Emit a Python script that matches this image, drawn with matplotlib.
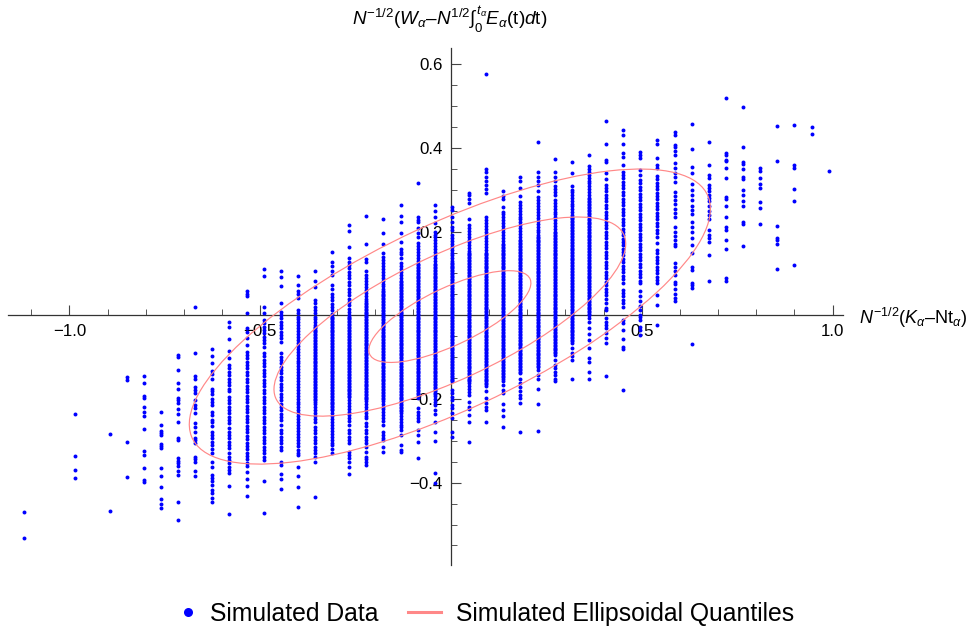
import numpy as np
import matplotlib
matplotlib.use("Agg")
import matplotlib.pyplot as plt
from matplotlib.lines import Line2D
from matplotlib.patches import Ellipse
from matplotlib.ticker import FixedLocator, FixedFormatter

plt.rcParams['font.family'] = ['Liberation Sans', 'DejaVu Sans']
plt.rcParams['mathtext.fontset'] = 'custom'
plt.rcParams['mathtext.rm'] = 'Liberation Sans'
plt.rcParams['mathtext.it'] = 'Liberation Sans:italic'
plt.rcParams['mathtext.bf'] = 'Liberation Sans:bold'

column_x = [-1.119,-0.985,-0.895,-0.850,-0.805,-0.760,-0.716,-0.671,-0.626,-0.581,-0.536,-0.491,-0.446,-0.401,
            -0.356,-0.312,-0.267,-0.222,-0.177,-0.132,-0.087,-0.042,0.003,0.048,0.092,0.137,0.182,0.227,0.272,
            0.317,0.362,0.407,0.451,0.496,0.541,0.586,0.631,0.676,0.721,0.766,0.810,0.855,0.900,0.945,0.990]

# simulated values per lattice column, in thousandths
column_y = [
 [-470,-533],
 [-236,-335,-370,-388],
 [-284,-467],
 [-148,-155,-303,-387],
 [-146,-162,-193,-198,-219,-230,-241,-272,-324,-334,-364,-393,-398],
 [-230,-261,-276,-282,-287,-308,-312,-316,-364,-385,-410,-438,-451,-461],
 [-94,-100,-130,-162,-175,-198,-202,-209,-224,-236,-256,-292,-298,-342,-347,-353,-361,-372,-381,-446,-488],
 [21,-89,-145,-153,-172,-178,-186,-202,-214,-222,-234,-258,-266,-278,-292,-298,-306,-338,-344,-350,-372,-385],
 [-81,-97,-115,-132,-140,-153,-177,-182,-189,-201,-206,-214,-230,-238,-250,-256,-264,-278,-286,-294,-302,-310,-320,-330,-350,-362,-381,-389,-397,-405,-417,-425,-437,-447],
 [-15,-27,-57,-85,-103,-119,-127,-135,-143,-151,-159,-167,-175,-182,-194,-202,-210,-218,-226,-234,-242,-250,-258,-270,-278,-286,-294,-302,-310,-318,-328,-338,-346,-354,-362,-370,-376,-408,-475],
 [57,50,45,5,-31,-39,-55,-71,-87,-95,-103,-111,-119,-127,-135,-143,-151,-160,-168,-176,-184,-192,-200,-208,-216,-224,-232,-240,-248,-256,-264,-272,-280,-288,-296,-304,-312,-320,-328,-336,-344,-352,-360,-374,-390,-407,-432],
 [111,93,19,6,-11,-19,-27,-35,-43,-51,-59,-67,-75,-90,-98,-106,-114,-122,-130,-138,-146,-154,-162,-170,-178,-186,-194,-202,-210,-218,-226,-234,-242,-250,-258,-266,-274,-282,-290,-298,-306,-314,-322,-330,-338,-345,-397,-473],
 [107,91,69,30,9,1,-7,-15,-23,-31,-39,-47,-55,-63,-91,-99,-107,-115,-123,-131,-139,-147,-155,-163,-171,-179,-187,-195,-203,-211,-219,-227,-235,-243,-251,-262,-274,-282,-290,-298,-306,-314,-322,-351,-358,-378,-391,-415],
 [95,73,57,50,41,13,5,-3,-10,-17,-24,-31,-38,-45,-52,-59,-66,-73,-80,-87,-94,-101,-108,-115,-122,-129,-136,-143,-150,-157,-164,-171,-178,-185,-192,-199,-206,-213,-220,-227,-234,-241,-248,-255,-262,-269,-276,-283,-290,-297,-305,-313,-321,-329,-334,-362,-384,-411,-459],
 [107,82,67,37,29,21,13,5,-3,-10,-17,-24,-31,-38,-45,-52,-59,-66,-73,-80,-87,-94,-101,-108,-115,-122,-129,-136,-143,-150,-157,-164,-171,-178,-185,-192,-199,-206,-213,-220,-227,-234,-241,-248,-255,-266,-274,-282,-290,-298,-306,-314,-322,-330,-338,-350,-434],
 [151,127,119,106,96,72,64,52,44,36,28,20,12,4,-3,-10,-17,-24,-31,-38,-45,-52,-59,-66,-73,-80,-87,-94,-101,-108,-115,-122,-129,-136,-143,-150,-157,-164,-171,-178,-185,-192,-199,-206,-213,-220,-227,-234,-241,-248,-255,-262,-269,-276,-283,-290,-297,-304,-310,-319,-330],
 [215,202,164,136,128,120,112,104,96,88,80,72,64,56,48,40,32,24,16,8,0,-7,-14,-21,-28,-35,-42,-49,-56,-63,-70,-77,-84,-91,-98,-105,-112,-119,-126,-133,-140,-147,-154,-161,-168,-175,-182,-189,-196,-203,-210,-217,-224,-231,-238,-245,-252,-262,-274,-282,-290,-298,-306,-326,-334,-342,-350,-362,-379],
 [237,170,134,128,107,96,89,82,75,68,61,54,47,40,33,26,19,12,5,-2,-9,-16,-23,-30,-37,-44,-51,-58,-65,-72,-79,-86,-93,-100,-107,-114,-121,-128,-135,-142,-149,-156,-163,-170,-177,-184,-191,-198,-205,-212,-219,-226,-233,-240,-245,-257,-265,-273,-281,-290,-298,-306,-314,-326,-338,-344,-350,-358],
 [231,197,170,148,140,132,125,118,111,104,97,90,83,76,69,62,55,48,41,34,27,20,13,6,-1,-8,-15,-22,-29,-36,-43,-50,-57,-64,-71,-78,-85,-92,-99,-106,-113,-120,-127,-134,-141,-148,-155,-162,-169,-176,-183,-190,-197,-204,-211,-218,-225,-232,-239,-246,-253,-262,-278,-286,-293,-298,-314,-326],
 [264,237,222,196,176,158,152,146,136,124,117,110,103,96,89,82,75,68,61,54,47,40,33,26,19,12,5,-2,-9,-16,-23,-30,-37,-44,-51,-58,-65,-72,-79,-86,-93,-100,-107,-114,-121,-128,-135,-142,-149,-156,-163,-170,-177,-184,-191,-198,-205,-212,-219,-226,-233,-240,-247,-254,-261,-268,-275,-286,-310,-322,-327],
 [316,236,228,222,208,197,188,172,165,158,151,144,137,130,123,116,109,102,95,88,81,74,67,60,53,46,39,32,25,18,11,4,-3,-10,-17,-24,-31,-38,-45,-52,-59,-66,-73,-80,-87,-94,-101,-108,-115,-122,-129,-136,-143,-150,-157,-164,-171,-178,-185,-192,-198,-222,-230,-238,-246,-252,-274,-286,-302,-342],
 [264,250,234,220,200,193,186,179,172,165,158,151,144,137,130,123,116,109,102,95,88,81,74,67,60,53,46,39,32,25,18,11,4,-3,-10,-17,-24,-31,-38,-45,-52,-59,-66,-73,-80,-87,-94,-101,-108,-115,-122,-129,-136,-143,-150,-157,-164,-171,-178,-185,-192,-199,-206,-214,-226,-236,-254,-278,-300,-377,-401],
 [258,252,236,224,210,204,192,185,178,171,164,157,150,143,136,129,122,115,108,101,94,87,80,73,66,59,52,45,38,31,24,17,10,3,-4,-11,-18,-25,-32,-39,-46,-53,-60,-67,-74,-81,-88,-95,-102,-109,-116,-123,-130,-137,-144,-151,-158,-178,-186,-194,-202,-214,-222,-234,-246,-278,-290],
 [293,288,277,269,230,216,209,202,195,188,181,174,167,160,153,146,139,132,125,118,111,104,97,90,83,76,69,62,55,48,41,34,27,20,13,6,-1,-8,-15,-22,-29,-36,-43,-50,-57,-64,-71,-78,-85,-92,-99,-106,-113,-120,-127,-134,-141,-148,-155,-162,-169,-176,-183,-190,-206,-218,-225,-238,-254,-303],
 [577,350,343,331,322,311,302,292,236,228,220,213,206,199,192,185,178,171,164,157,150,143,136,129,122,115,108,101,94,87,80,73,66,59,52,45,38,31,24,17,10,3,-4,-11,-18,-25,-32,-39,-46,-53,-60,-67,-74,-81,-88,-95,-102,-109,-116,-123,-130,-137,-144,-151,-158,-165,-170,-182,-198,-209,-218,-226,-254],
 [298,285,277,258,248,241,234,227,220,213,206,199,192,185,178,171,164,157,150,143,136,129,122,115,108,101,94,87,80,73,66,59,52,45,38,31,24,17,10,3,-4,-11,-18,-25,-32,-39,-46,-53,-60,-67,-74,-81,-88,-95,-102,-109,-116,-123,-130,-137,-144,-151,-158,-166,-178,-186,-213,-226,-240,-268],
 [330,322,305,285,271,264,257,250,243,236,229,222,215,208,201,194,187,180,173,166,159,152,145,138,131,124,117,110,103,96,89,82,75,68,61,54,47,40,33,26,19,12,5,-2,-9,-16,-23,-30,-37,-44,-51,-58,-65,-72,-79,-86,-93,-100,-107,-114,-121,-128,-135,-139,-152,-162,-172,-182,-190,-198,-210,-279],
 [413,342,330,322,311,297,282,275,268,261,254,247,240,233,226,219,212,205,198,191,184,177,170,163,156,149,142,135,128,121,114,107,100,93,86,79,72,65,58,51,44,37,30,23,16,9,2,-5,-12,-19,-26,-33,-40,-47,-54,-61,-68,-75,-82,-89,-96,-103,-110,-117,-124,-131,-143,-152,-177,-213,-277],
 [374,342,331,321,310,302,295,288,276,269,262,255,248,241,234,227,220,213,206,199,192,185,178,171,164,157,150,143,136,129,122,115,108,101,94,87,80,73,66,59,52,45,38,31,24,17,10,3,-4,-11,-18,-25,-32,-39,-46,-53,-60,-67,-74,-81,-88,-95,-107,-119,-127,-135,-143,-151,-158],
 [366,339,308,300,295,288,281,274,267,260,253,246,239,232,225,218,211,204,197,190,183,176,169,162,155,148,141,134,127,120,113,106,99,92,85,78,71,64,57,50,43,36,29,22,15,8,1,-6,-13,-20,-27,-34,-41,-48,-55,-62,-67,-79,-89,-98,-107,-151],
 [382,357,350,343,336,329,322,315,308,301,294,287,280,273,266,259,252,245,238,231,224,217,210,203,196,189,182,175,168,161,154,147,140,133,126,119,112,105,98,91,84,77,70,63,56,49,42,35,28,21,14,7,0,-7,-15,-31,-45,-59,-77,-101,-111,-136,-152],
 [464,409,371,366,340,326,312,304,296,288,280,272,264,256,248,240,232,224,216,208,200,192,184,176,168,160,152,144,136,128,120,112,104,96,88,80,72,64,56,48,40,29,17,13,-7,-15,-23,-31,-43,-55,-67,-146],
 [443,431,409,389,378,359,343,335,327,319,311,303,295,287,279,271,263,255,247,239,231,223,215,207,199,191,183,175,167,159,151,143,135,127,119,111,103,95,87,77,61,53,45,37,29,21,-11,-19,-35,-57,-75,-81,-178],
 [390,383,375,347,335,323,315,307,299,291,283,275,267,259,251,243,235,227,219,211,203,195,187,179,171,163,155,147,139,131,123,115,107,99,91,83,77,57,45,33,23,13,-3,1,-11,-27,-35,-47],
 [419,409,375,359,351,333,325,317,309,301,293,285,277,269,261,253,245,237,229,221,213,205,197,188,172,156,148,140,132,124,116,108,100,92,84,77,49,25,-23],
 [439,431,407,401,393,383,363,352,341,330,319,295,285,275,265,255,244,234,210,200,190,180,170,165,125,115,105,96,80,74,64,52,42,33],
 [456,397,354,341,314,300,288,276,260,252,242,224,212,200,184,168,148,116,108,78,73,65,-69],
 [413,360,335,327,311,304,296,288,280,272,260,250,240,230,204,191,184,175,143,81],
 [519,387,383,371,368,351,327,282,277,262,234,212,204,180,158,89,83],
 [497,401,367,362,350,330,325,300,288,272,262,224,217,166],
 [351,345,329,313,304,270,257,218],
 [452,368,214,184,180,170,111],
 [455,359,351,301,272,120],
 [450,433],
 [344],
]

# further values inside the solid central bands, thousandths
band_x = [-0.356,-0.312,-0.267,-0.222,-0.177,-0.132,-0.087,-0.042,0.003,0.048,0.092,0.137,0.182,0.227,0.272,0.317,0.362]
band_y = [
 [-27,-34,-41,-48,-55,-62,-69,-76,-83,-90,-97,-104,-111,-118,-125,-132,-139,-146,-153,-160,-167,-174,-181,-188,-195,-202],
 [-6,-13,-20,-27,-34,-41,-48,-55,-62,-69,-76,-83,-90,-97,-104,-111,-118,-125,-132,-139,-146,-153,-160,-167,-174,-181,-188,-195,-202,-209,-216,-223],
 [-3,-10,-17,-24,-31,-38,-45,-52,-59,-66,-73,-80,-87,-94,-101,-108,-115,-122,-129,-136,-143,-150,-157,-164,-171,-178,-185,-192],
 [30,23,16,9,2,-5,-12,-19,-26,-33,-40,-47,-54,-61,-68,-75,-82,-89,-96,-103,-110,-117,-124,-131,-138,-145,-152,-159,-166,-173,-180,-187,-194,-201],
 [59,52,45,38,31,24,17,10,3,-4,-11,-18,-25,-32,-39,-46,-53,-60,-67,-74,-81,-88,-95,-102,-109,-116,-123,-130,-137,-144,-151,-158,-165,-172,-179,-186,-193,-200],
 [79,72,65,58,51,44,37,30,23,16,9,2,-5,-12,-19,-26,-33,-40,-47,-54,-61,-68,-75,-82,-89,-96,-103,-110,-117,-124,-131,-138,-145,-152,-159,-166,-173,-180,-187,-194,-201,-208,-215,-222,-229],
 [120,113,106,99,92,85,78,71,64,57,50,43,36,29,22,15,8,1,-6,-13,-20,-27,-34,-41,-48,-55,-62,-69,-76,-83,-90,-97,-104,-111,-118,-125,-132,-139,-146,-153,-160,-167,-174,-181,-188],
 [120,113,106,99,92,85,78,71,64,57,50,43,36,29,22,15,8,1,-6,-13,-20,-27,-34,-41,-48,-55,-62,-69,-76,-83,-90,-97,-104,-111,-118,-125,-132,-139,-146,-153,-160,-167,-174,-181,-188],
 [126,119,112,105,98,91,84,77,70,63,56,49,42,35,28,21,14,7,0,-7,-14,-21,-28,-35,-42,-49,-56,-63,-70,-77,-84,-91,-98,-105,-112,-119,-126,-133,-140,-147,-154],
 [150,143,136,129,122,115,108,101,94,87,80,73,66,59,52,45,38,31,24,17,10,3,-4,-11,-18,-25,-32,-39,-46,-53,-60,-67,-74,-81,-88,-95,-102,-109,-116,-123,-130,-137,-144,-151,-158],
 [147,140,133,126,119,112,105,98,91,84,77,70,63,56,49,42,35,28,21,14,7,0,-7,-14,-21,-28,-35,-42,-49,-56,-63,-70,-77,-84,-91,-98,-105,-112,-119,-126,-133,-140,-147,-154,-161],
 [168,161,154,147,140,133,126,119,112,105,98,91,84,77,70,63,56,49,42,35,28,21,14,7,0,-7,-14,-21,-28,-35,-42,-49,-56,-63,-70,-77,-84,-91,-98,-105,-112,-119,-126,-133,-140,-147],
 [177,170,163,156,149,142,135,128,121,114,107,100,93,86,79,72,65,58,51,44,37,30,23,16,9,2,-5,-12,-19,-26,-33,-40,-47,-54,-61,-68,-75,-82,-89,-96,-103,-110,-117,-124,-131],
 [188,181,174,167,160,153,146,139,132,125,118,111,104,97,90,83,76,69,62,55,48,41,34,27,20,13,6,-1,-8,-15,-22,-29,-36,-43,-50,-57,-64,-71,-78,-85,-92,-99,-106,-113,-120],
 [196,189,182,175,168,161,154,147,140,133,126,119,112,105,98,91,84,77,70,63,56,49,42,35,28,21,14,7,0,-7,-14,-21,-28,-35,-42,-49,-56,-63,-70,-77,-84,-91],
 [236,229,222,215,208,201,194,187,180,173,166,159,152,145,138,131,124,117,110,103,96,89,82,75,68,61,54,47,40,33,26,19,12,5,-2,-9,-16,-23,-30,-37,-44,-51,-58],
 [277,270,263,256,249,242,235,228,221,214,207,200,193,186,179,172,165,158,151,144,137,130,123,116,109,102,95,88,81,74,67,60,53,46,39,32,25,18,11,4],
]

ellipse_center = (-0.003, -0.003)
ellipse_half_x = 0.683
ellipse_half_y = 0.3525
ellipse_corr = 0.73
quantile_radii = [1.0, 0.675, 0.311]

x_major = [-1.0, -0.5, 0.5, 1.0]
x_major_labels = ['\u22121.0', '\u22120.5', '0.5', '1.0']
x_minor = [-1.1,-0.9,-0.8,-0.7,-0.6,-0.4,-0.3,-0.2,-0.1,0.1,0.2,0.3,0.4,0.6,0.7,0.8,0.9]
y_major = [-0.4, -0.2, 0.2, 0.4, 0.6]
y_major_labels = ['\u22120.4', '\u22120.2', '0.2', '0.4', '0.6']
y_minor = [-0.55,-0.5,-0.45,-0.35,-0.3,-0.25,-0.15,-0.1,-0.05,0.05,0.1,0.15,0.25,0.3,0.35,0.45,0.5,0.55]

W, H = 966, 626
fig = plt.figure(figsize=(W/100, H/100), dpi=100)
ax = fig.add_axes([8/W, (H-565)/H, 835/W, 517/H])
ax.set_xlim(-1.1612, 1.0275)
ax.set_ylim(-0.5966, 0.6387)

xs = np.concatenate([np.full(len(c), x) for x, c in zip(column_x + band_x, column_y + band_y)])
ys = np.concatenate([np.array(c, float)/1000 for c in column_y + band_y])
ax.scatter(xs, ys, s=8.0, color=(0, 0, 1), linewidths=0, zorder=3, clip_on=False)

cov = np.array([[ellipse_half_x**2, ellipse_corr*ellipse_half_x*ellipse_half_y],
                [ellipse_corr*ellipse_half_x*ellipse_half_y, ellipse_half_y**2]])
vals, vecs = np.linalg.eigh(cov)
angle = np.degrees(np.arctan2(vecs[1, 1], vecs[0, 1]))
for r in quantile_radii:
    ax.add_patch(Ellipse(ellipse_center, 2*r*np.sqrt(vals[1]), 2*r*np.sqrt(vals[0]), angle=angle,
                         fill=False, edgecolor='#ff8888', linewidth=0.85, zorder=4))

for s in ('top', 'right'):
    ax.spines[s].set_visible(False)
for s in ('left', 'bottom'):
    ax.spines[s].set_position('zero')
    ax.spines[s].set_color('#333333')
    ax.spines[s].set_linewidth(0.9)
    ax.spines[s].set_zorder(2)
ax.xaxis.set_major_locator(FixedLocator(x_major))
ax.xaxis.set_major_formatter(FixedFormatter(x_major_labels))
ax.xaxis.set_minor_locator(FixedLocator(x_minor))
ax.yaxis.set_major_locator(FixedLocator(y_major))
ax.yaxis.set_major_formatter(FixedFormatter(y_major_labels))
ax.yaxis.set_minor_locator(FixedLocator(y_minor))
ax.tick_params(which='major', direction='in', length=7.5, width=0.8, color='#444444', labelsize=12.2, pad=6)
ax.tick_params(which='minor', direction='in', length=4, width=0.7, color='#555555')
for lab in ax.get_xticklabels() + ax.get_yticklabels():
    lab.set_zorder(6)

fig.text(450/W, 1-20/H, r'$N^{-1/2}(W_{\alpha}$' + '\u2013' + r'$N^{1/2}\int_{0}^{t_{\alpha}}E_{\alpha}(\mathrm{t})d\mathrm{t})$',
         ha='center', va='center', fontsize=13.6)
fig.text(859/W, 1-318/H, r'$N^{-1/2}(K_{\alpha}$' + '\u2013' + r'$\mathrm{Nt}_{\alpha})$',
         ha='left', va='center', fontsize=13)

handles = [Line2D([], [], linestyle='none', marker='o', markersize=6.5, color=(0, 0, 1), markeredgewidth=0),
           Line2D([], [], color='#ff8888', linewidth=2.2)]
leg = fig.legend(handles, ['Simulated Data', 'Simulated Ellipsoidal Quantiles'], loc='center',
                 bbox_to_anchor=(478/W, 1-614/H), ncol=2, frameon=False, fontsize=17.8,
                 handlelength=1.33, handletextpad=0.6, columnspacing=1.2, borderpad=0)
dot = leg.legend_handles[0]
dot.set_xdata(np.asarray(dot.get_xdata()) + 6.8)

fig.savefig('out.png', dpi=100)
